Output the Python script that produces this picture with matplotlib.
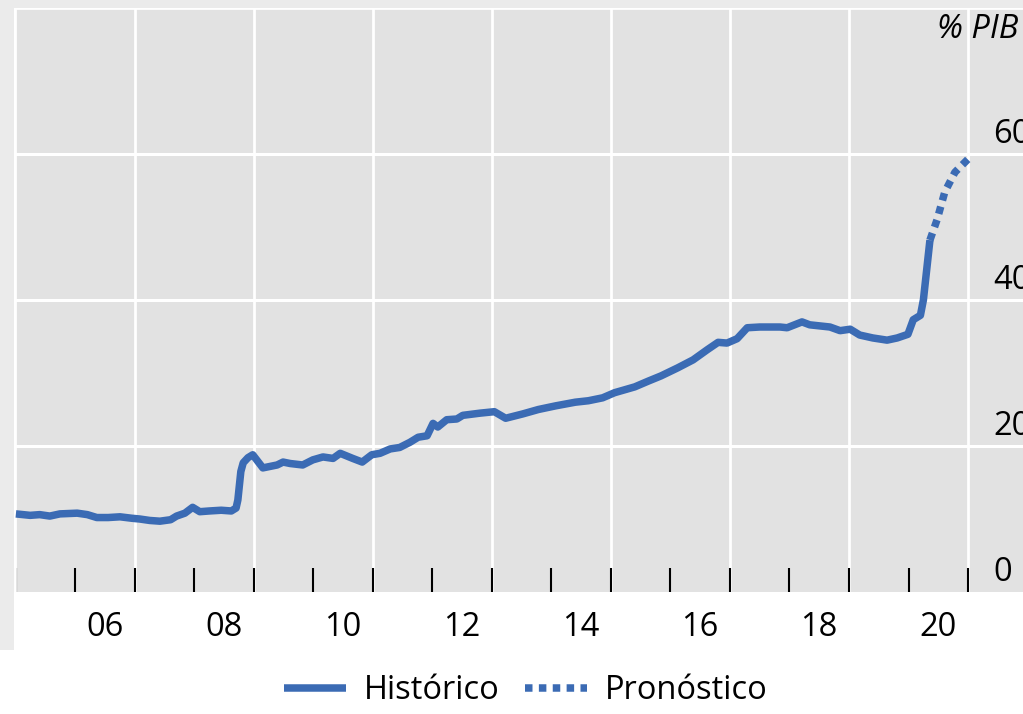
import matplotlib.pyplot as plt
import matplotlib.patches as mpatches

# =============================================================================
#  Deuda pública (% PIB): histórico y pronóstico
# =============================================================================

plt.rcParams["font.family"] = ["Open Sans", "DejaVu Sans"]
plt.rcParams["font.size"] = 23.5

hist_years = [
    2005.00, 2005.24, 2005.40, 2005.57, 2005.74, 2006.03, 2006.20, 2006.36,
    2006.55, 2006.75, 2006.95, 2007.08, 2007.25, 2007.42, 2007.60, 2007.70,
    2007.84, 2007.97, 2008.09, 2008.25, 2008.45, 2008.62, 2008.70, 2008.73,
    2008.78, 2008.82, 2008.90, 2008.98, 2009.15, 2009.39, 2009.49, 2009.61,
    2009.82, 2009.99, 2010.16, 2010.33, 2010.45, 2010.66, 2010.82, 2010.98,
    2011.12, 2011.29, 2011.45, 2011.62, 2011.76, 2011.91, 2012.01, 2012.09,
    2012.24, 2012.41, 2012.51, 2012.80, 2013.04, 2013.23, 2013.52, 2013.78,
    2014.07, 2014.40, 2014.62, 2014.86, 2015.06, 2015.40, 2015.63, 2015.84,
    2016.12, 2016.38, 2016.62, 2016.80, 2016.95, 2017.12, 2017.29, 2017.50,
    2017.84, 2017.96, 2018.21, 2018.34, 2018.68, 2018.85, 2019.02, 2019.18,
    2019.40, 2019.64, 2019.81, 2019.99, 2020.08, 2020.20, 2020.25, 2020.36,
]
hist_vals = [
    10.7, 10.5, 10.6, 10.4, 10.7, 10.8, 10.6, 10.2,
    10.2, 10.3, 10.1, 10.0, 9.8, 9.7, 9.9, 10.4,
    10.8, 11.6, 11.0, 11.1, 11.2, 11.1, 11.5, 12.6,
    16.5, 17.7, 18.4, 18.8, 17.0, 17.4, 17.8, 17.6,
    17.4, 18.1, 18.5, 18.3, 19.0, 18.3, 17.8, 18.8,
    19.0, 19.6, 19.8, 20.5, 21.2, 21.4, 23.1, 22.6,
    23.6, 23.7, 24.2, 24.5, 24.7, 23.8, 24.4, 25.0,
    25.5, 26.0, 26.2, 26.6, 27.3, 28.1, 28.9, 29.6,
    30.7, 31.8, 33.2, 34.2, 34.1, 34.7, 36.2, 36.3,
    36.3, 36.2, 37.0, 36.6, 36.3, 35.8, 36.0, 35.2,
    34.8, 34.5, 34.8, 35.3, 37.3, 37.9, 40.0, 48.2,
]

fc_years = [2020.36, 2020.48, 2020.61, 2020.78, 2021.00]
fc_vals = [48.2, 51.0, 54.8, 57.5, 59.3]

y_ticks = [0, 20, 40, 60]
label_years = [2006, 2008, 2010, 2012, 2014, 2016, 2018, 2020]

blue = "#3b6bb4"
panel = "#e2e2e2"

fig = plt.figure(figsize=(10.23, 7.14), dpi=100, facecolor="white")

# screenshot margin strips (top and left)
fig.patches.append(mpatches.Rectangle((0, 706 / 714), 1, 8 / 714, transform=fig.transFigure,
                                      facecolor="#ebebeb", edgecolor="none", zorder=0))
fig.patches.append(mpatches.Rectangle((0, 0.09), 14 / 1023, 0.91, transform=fig.transFigure,
                                      facecolor="#ebebeb", edgecolor="none", zorder=0))

ax = fig.add_axes([15 / 1023, 122 / 714, 1008 / 1023, 584 / 714])
ax.set_facecolor(panel)

ax.plot(hist_years, hist_vals, color=blue, linewidth=5.4, solid_capstyle="butt",
        solid_joinstyle="round", label="Histórico", zorder=3)
ax.plot(fc_years, fc_vals, color=blue, linewidth=5.4, dashes=(1.0, 0.85),
        dash_capstyle="butt", label="Pronóstico", zorder=3)

ax.set_xlim(2004.985, 2021.924)
ax.set_ylim(0, 80)

# grid: white lines on odd years and every 20 points
for yr in range(2007, 2022, 2):
    ax.axvline(yr, color="white", linewidth=2, zorder=1)
for v in [20, 40, 60]:
    ax.axhline(v, color="white", linewidth=2.2, zorder=1)

# year ticks inside the panel, labels centred in each even year
ax.set_xticks(range(2005, 2022))
ax.set_xticklabels([])
ax.tick_params(axis="x", which="major", direction="in", length=17, width=1.5,
               color="black")
ax.set_xticks([y + 0.5 for y in label_years], minor=True)
ax.set_xticklabels([f"{y % 100:02d}" for y in label_years], minor=True)
ax.tick_params(axis="x", which="minor", length=0, pad=14, labelsize=23.5)
ax.set_yticks([])

for sp in ["right", "bottom"]:
    ax.spines[sp].set_visible(False)
for sp in ["top", "left"]:
    ax.spines[sp].set_color("white")
    ax.spines[sp].set_linewidth(2)

for v in y_ticks:
    ax.text(2021.42, v + 2.7, f"{v}", ha="left", va="center", fontsize=23.5, zorder=4)
ax.text(2020.48, 77.0, "% PIB", ha="left", va="center", fontsize=23.5,
        style="italic", zorder=4)

fig.legend(loc="center", bbox_to_anchor=(0.514, 0.033), ncol=2, frameon=False,
           fontsize=23.5, handlelength=1.9, handletextpad=0.55, columnspacing=0.8)

fig.savefig("out.png", dpi=100, facecolor=fig.get_facecolor())
